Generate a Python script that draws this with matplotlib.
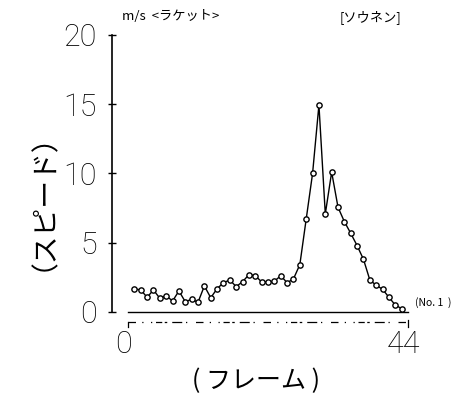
import matplotlib
matplotlib.use("Agg")
import matplotlib.pyplot as plt
import matplotlib.transforms as mtransforms

plt.rcParams["font.family"] = ["Noto Sans CJK JP", "DejaVu Sans"]

# frame number and racket speed (m/s)
FRAMES = list(range(1, 44))
SPEED = [
    1.66, 1.60, 1.06, 1.59, 0.99, 1.18, 0.79, 1.52, 0.74, 0.92,
    0.70, 1.88, 1.03, 1.68, 2.12, 2.31, 1.83, 2.19, 2.69, 2.62,
    2.17, 2.17, 2.22, 2.62, 2.11, 2.39, 3.42, 6.71, 10.0, 14.95,
    7.08, 10.1, 7.56, 6.52, 5.68, 4.79, 3.80, 2.31, 1.93, 1.64,
    1.06, 0.50, 0.24,
]
Y_TICKS = [0, 5, 10, 15, 20]
X_TICKS = [0, 44]
X_RANGE = (0, 44)
NUM_FONT = ["Roboto", "DejaVu Sans"]

W, H = 462, 405
fig = plt.figure(figsize=(W / 100, H / 100), dpi=100)

# axis left edge sits at the y-axis line, a bit before frame 0
ax = fig.add_axes([112 / W, (H - 330) / H, 308 / W, 295 / H])
ax.set_xlim(-2.514, 45.88)
ax.set_ylim(-1.30, 20)

ax.plot(FRAMES, SPEED, color="black", lw=1.0, marker="o", ms=3.8,
        mfc="white", mec="black", mew=1.0, zorder=3)

# baseline and the broken frame scale under it
ax.plot(X_RANGE, [0, 0], color="black", lw=1.0)
ax.plot(X_RANGE, [-0.72, -0.72], color="black", lw=0.9,
        linestyle=(0, (6, 5, 1, 6, 1, 3, 5, 2, 2, 4, 8, 3, 1, 7)))
ax.plot([0, 0], [-0.72, -1.05], color="black", lw=0.9)
ax.plot([44, 44], [-0.55, -1.05], color="black", lw=0.9)

for side in ["top", "right", "bottom"]:
    ax.spines[side].set_visible(False)
ax.spines["left"].set_bounds(0, 20)
ax.spines["left"].set_linewidth(1.2)

ax.set_yticks(Y_TICKS)
ax.set_yticklabels([str(v) for v in Y_TICKS], family=NUM_FONT,
                   fontweight="light", fontsize=22)
ax.tick_params(axis="y", direction="inout", length=6, width=1.0, pad=8)

ax.set_xticks(X_TICKS)
ax.set_xticklabels([str(v) for v in X_TICKS], family=NUM_FONT,
                   fontweight="light", fontsize=22)
ax.tick_params(axis="x", length=0, pad=0)
shift = mtransforms.ScaledTranslation(-5 / 100, 0, fig.dpi_scale_trans)
for lab in ax.get_xticklabels():
    lab.set_transform(lab.get_transform() + shift)

fig.text(29 / W, 1 - 188 / H, "（スピード）", rotation=90, ha="center",
         va="center", fontsize=20)
fig.text(256 / W, 1 - 381 / H, "( フレーム )", ha="center", va="center",
         fontsize=18)
fig.text(122 / W, 1 - 17 / H, "m/s  <ラケット>", ha="left", va="center",
         fontsize=9.5)
fig.text(340 / W, 1 - 17 / H, "[ソウネン]", ha="left", va="center",
         fontsize=9.5)
fig.text(415 / W, 1 - 303 / H, "(No. 1  )", ha="left", va="center",
         fontsize=7.5)

fig.savefig("out.png", dpi=100)
